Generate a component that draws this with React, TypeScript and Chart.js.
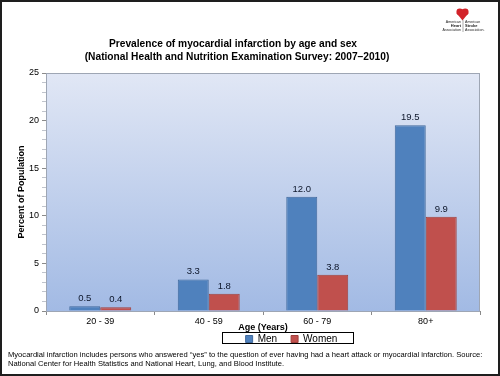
import React, { useEffect, useRef } from "react";
import { Chart, registerables } from "chart.js";

Chart.register(...registerables);

const categories = ["20 - 39", "40 - 59", "60 - 79", "80+"];
const menValues = [0.5, 3.3, 12.0, 19.5];
const womenValues = [0.4, 1.8, 3.8, 9.9];
const titleLines = [
  "Prevalence of myocardial infarction by age and sex",
  "(National Health and Nutrition Examination Survey: 2007\u20132010)",
];
const footnoteLines = [
  "Myocardial infarction includes persons who answered \u201cyes\u201d to the question of ever having had a heart attack or myocardial infarction. Source:",
  "National Center for Health Statistics and National Heart, Lung, and Blood Institute.",
];
const yTitle = "Percent of Population";
const xTitle = "Age (Years)";

const FONT = "'Liberation Sans', Arial, Helvetica, sans-serif";

const decorPlugin = {
  id: "decor",
  afterLayout(chart: any) {
    const lg = chart.legend;
    if (lg) {
      const h = lg.bottom - lg.top;
      const w = lg.right - lg.left;
      lg.top = 320;
      lg.bottom = 320 + h;
      lg.left = 51.5;
      lg.right = 51.5 + w;
    }
  },
  beforeDatasetsDraw(chart: any) {
    const { ctx, chartArea } = chart;
    const { left, top, right, bottom } = chartArea;
    ctx.save();
    const g = ctx.createLinearGradient(0, top, 0, bottom);
    g.addColorStop(0, "#e1e7f5");
    g.addColorStop(1, "#a2bae4");
    ctx.fillStyle = g;
    ctx.fillRect(left, top, right - left, bottom - top);
    ctx.strokeStyle = "#9ea6b4";
    ctx.lineWidth = 1;
    ctx.strokeRect(left + 0.5, top + 0.5, right - left - 1, bottom - top);
    ctx.restore();
  },
  afterDatasetsDraw(chart: any) {
    const { ctx } = chart;
    ctx.save();
    ctx.font = `9.5px ${FONT}`;
    ctx.fillStyle = "#0c1529";
    ctx.textAlign = "center";
    ctx.textBaseline = "bottom";
    chart.data.datasets.forEach((ds: any, i: number) => {
      const meta = chart.getDatasetMeta(i);
      meta.data.forEach((bar: any, j: number) => {
        ctx.fillText(Number(ds.data[j]).toFixed(1), bar.x, bar.y - 3);
      });
    });
    ctx.restore();
  },
  afterDraw(chart: any) {
    const { ctx, width, height } = chart;
    ctx.save();
    // title
    ctx.fillStyle = "#000";
    ctx.textAlign = "center";
    ctx.textBaseline = "middle";
    ctx.font = `bold 10.2px ${FONT}`;
    ctx.fillText(titleLines[0], 233, 44);
    ctx.fillText(titleLines[1], 237, 57);
    // footnote
    ctx.textAlign = "left";
    ctx.font = `7.6px ${FONT}`;
    ctx.fillText(footnoteLines[0], 8, 354.5);
    ctx.fillText(footnoteLines[1], 8, 363.5);
    // legend border
    ctx.strokeStyle = "#000";
    ctx.lineWidth = 1;
    ctx.strokeRect(222.5, 332.5, 131, 11);
    // logo
    ctx.fillStyle = "#d2232a";
    ctx.beginPath();
    ctx.arc(459.8, 12, 3.4, 0, Math.PI * 2);
    ctx.arc(465.2, 12, 3.4, 0, Math.PI * 2);
    ctx.fill();
    ctx.beginPath();
    ctx.moveTo(456.5, 13);
    ctx.lineTo(462.5, 20.5);
    ctx.lineTo(468.5, 13);
    ctx.fill();
    ctx.fillStyle = "#222";
    ctx.font = `3.6px ${FONT}`;
    ctx.textAlign = "right";
    ctx.fillText("American", 461, 22);
    ctx.font = `bold 4px ${FONT}`;
    ctx.fillText("Heart", 461, 26);
    ctx.font = `3.6px ${FONT}`;
    ctx.fillText("Association", 461, 30);
    ctx.textAlign = "left";
    ctx.fillText("American", 465, 22);
    ctx.font = `bold 4px ${FONT}`;
    ctx.fillText("Stroke", 465, 26);
    ctx.font = `3.6px ${FONT}`;
    ctx.fillText("Association.", 465, 30);
    ctx.strokeStyle = "#555";
    ctx.lineWidth = 0.5;
    ctx.beginPath();
    ctx.moveTo(463, 20);
    ctx.lineTo(463, 32);
    ctx.stroke();
    // outer frame
    ctx.strokeStyle = "#1e1e1e";
    ctx.lineWidth = 2;
    ctx.strokeRect(1, 1, width - 2, height - 2);
    ctx.restore();
  },
};

export default function App() {
  const ref = useRef<HTMLCanvasElement | null>(null);
  useEffect(() => {
    if (!ref.current) return;
    const chart = new Chart(ref.current, {
      type: "bar",
      data: {
        labels: categories,
        datasets: [
          {
            label: "Men",
            data: menValues,
            backgroundColor: "#4f81bd",
            borderColor: "#40699c",
            borderWidth: 1,
            categoryPercentage: 0.571,
            barPercentage: 1,
          },
          {
            label: "Women",
            data: womenValues,
            backgroundColor: "#c0504d",
            borderColor: "#a0403d",
            borderWidth: 1,
            categoryPercentage: 0.571,
            barPercentage: 1,
          },
        ],
      },
      options: {
        responsive: false,
        animation: false,
        devicePixelRatio: 1,
        layout: { padding: { top: 73, right: 20, left: 0, bottom: 9 } },
        plugins: {
          title: { display: false },
          tooltip: { enabled: false },
          legend: {
            display: true,
            position: "bottom",
            labels: {
              boxWidth: 7,
              boxHeight: 7,
              padding: 14,
              color: "#000",
              font: { family: FONT, size: 10 },
            },
          },
        },
        scales: {
          x: {
            afterFit: (s: any) => {
              s.height = 22;
            },
            grid: {
              drawOnChartArea: false,
              tickLength: 4,
              tickColor: "#8a8a8a",
            },
            border: { display: true, color: "#8a8a8a" },
            ticks: {
              color: "#000",
              padding: 1,
              font: { family: FONT, size: 9 },
            },
            title: {
              display: true,
              text: xTitle,
              color: "#000",
              padding: { top: 0, bottom: 0 },
              font: { family: FONT, size: 9, weight: "bold" },
            },
          },
          y: {
            min: 0,
            max: 25,
            afterFit: (s: any) => {
              s.width = 46;
            },
            grid: {
              drawOnChartArea: false,
              tickLength: 4,
              tickColor: (c: any) =>
                c.tick && c.tick.value % 5 === 0 ? "#8a8a8a" : "#c0c4cc",
            },
            border: { display: true, color: "#8a8a8a" },
            ticks: {
              stepSize: 1,
              autoSkip: false,
              color: "#000",
              padding: 3,
              font: { family: FONT, size: 9 },
              callback: (v: any) => (Number(v) % 5 === 0 ? String(v) : ""),
            },
            title: {
              display: true,
              text: yTitle,
              color: "#000",
              padding: { top: 16.6, bottom: 0 },
              font: { family: FONT, size: 9, weight: "bold" },
            },
          },
        },
      },
      plugins: [decorPlugin],
    } as any);
    return () => chart.destroy();
  }, []);
  return (
    <div style={{ position: "fixed", left: 0, top: 0, width: 500, height: 376, background: "#fff" }}>
      <canvas ref={ref} width={500} height={376} style={{ display: "block" }} />
    </div>
  );
}
